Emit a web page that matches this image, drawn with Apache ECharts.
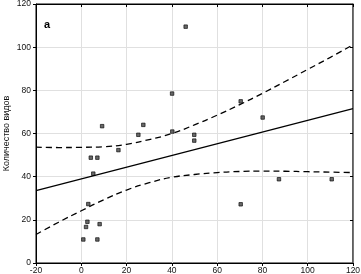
<!DOCTYPE html>
<html><head><meta charset="utf-8">
<script src="https://cdn.jsdelivr.net/npm/echarts@6/dist/echarts.min.js"></script>
<style>html,body{margin:0;padding:0;background:#fff}#c{width:361px;height:274px}</style>
</head><body><div id="c"></div>
<script>
// observed points (x, y)
var pointsX = [9.2, 16.4, 4.2, 7.1, 5.3, 3.1, 2.7, 2.1, 8.1, 0.9, 7.1, 40.1, 27.4, 25.2, 40.2, 49.9, 49.9, 46.1, 70.4, 80.1, 87.3, 70.4, 110.6];
var pointsY = [63.4, 52.3, 48.8, 48.8, 41.4, 27.3, 19.1, 16.7, 18.0, 10.9, 10.9, 78.5, 64.0, 59.4, 60.9, 59.4, 56.7, 109.5, 74.9, 67.4, 38.8, 27.2, 38.8];
// regression line endpoints
var fitX = [-20, 120];
var fitY = [33.5, 71.5];
// confidence band
var bandX = [-20, -10, 0, 10, 20, 30, 40, 50, 60, 70, 80, 90, 100, 110, 120];
var bandLower = [13.2, 18.9, 24.2, 29.3, 33.8, 37.2, 39.7, 41.0, 41.9, 42.4, 42.6, 42.5, 42.3, 42.1, 41.9];
var bandUpper = [53.7, 53.5, 53.6, 53.9, 55.0, 57.2, 60.0, 64.0, 68.5, 73.4, 78.6, 84.1, 89.7, 95.3, 101.1];
var xTicks = [-20, 0, 20, 40, 60, 80, 100, 120];
var yTicks = [0, 20, 40, 60, 80, 100, 120];
var yName = 'Количество видов';
var panelLabel = 'а';

function zip(a, b) { return a.map(function (v, i) { return [v, b[i]]; }); }

var chart = echarts.init(document.getElementById('c'));
var font = 'Liberation Sans, Arial, sans-serif';
chart.setOption({
  animation: false,
  backgroundColor: '#fff',
  grid: { left: 36, right: 8, top: 4, bottom: 11, containLabel: false, outerBoundsMode: 'none',
          show: true, borderColor: '#000', borderWidth: 1 },
  xAxis: [{
    type: 'value', min: -20, max: 120, interval: 20,
    axisLine: { onZero: false, lineStyle: { color: '#000' } },
    axisTick: { show: true, length: 3, lineStyle: { color: '#000' } },
    axisLabel: { color: '#111', fontSize: 8.5, fontFamily: font, margin: 3 },
    splitLine: { show: true, lineStyle: { color: '#e0e0e0' } }
  }, {
    type: 'value', min: -20, max: 120, interval: 20, position: 'top',
    axisLine: { show: true, onZero: false, lineStyle: { color: '#000' } },
    axisTick: { show: true, inside: true, length: 3, lineStyle: { color: '#000' } },
    axisLabel: { show: false }, splitLine: { show: false }
  }],
  yAxis: [{
    type: 'value', min: 0, max: 120, interval: 20,
    name: yName, nameLocation: 'middle', nameGap: 25, nameMoveOverlap: false,
    nameTextStyle: { color: '#111', fontSize: 9, fontFamily: font },
    axisLine: { onZero: false, lineStyle: { color: '#000' } },
    axisTick: { show: true, length: 3, lineStyle: { color: '#000' } },
    axisLabel: { color: '#111', fontSize: 8.5, fontFamily: font, margin: 5 },
    splitLine: { show: true, lineStyle: { color: '#e0e0e0' } }
  }, {
    type: 'value', min: 0, max: 120, interval: 20, position: 'right',
    axisLine: { show: true, onZero: false, lineStyle: { color: '#555', width: 1.5 } },
    axisTick: { show: true, inside: true, length: 3, lineStyle: { color: '#000' } },
    axisLabel: { show: false }, splitLine: { show: false }
  }],
  graphic: [{
    type: 'text', left: 44, top: 19,
    style: { text: panelLabel, font: 'bold 11px ' + font, fill: '#000' }
  }],
  series: [{
    type: 'line', data: zip(bandX, bandUpper), smooth: true, symbol: 'none',
    lineStyle: { color: '#000', width: 1.3, type: [6, 4] }
  }, {
    type: 'line', data: zip(bandX, bandLower), smooth: true, symbol: 'none',
    lineStyle: { color: '#000', width: 1.3, type: [6, 4] }
  }, {
    type: 'line', data: zip(fitX, fitY), symbol: 'none',
    lineStyle: { color: '#000', width: 1.2 }
  }, {
    type: 'scatter', data: zip(pointsX, pointsY), symbol: 'rect', symbolSize: 3.5,
    itemStyle: { color: '#444', borderColor: '#000', borderWidth: 0.8 }
  }]
});
</script></body></html>
